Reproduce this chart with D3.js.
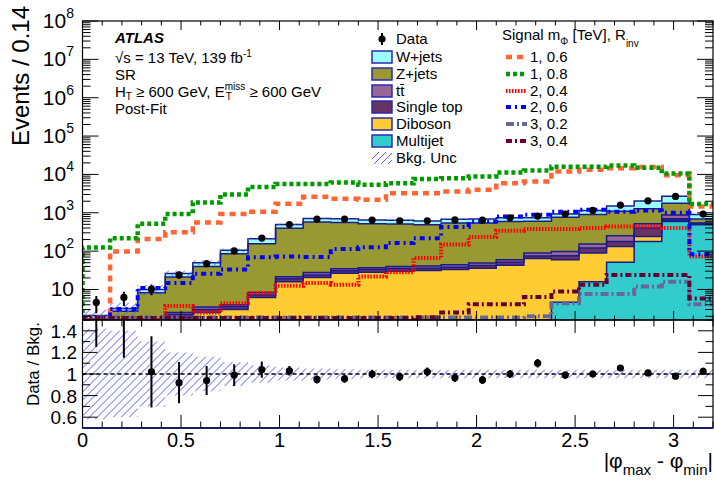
<!DOCTYPE html>
<html>
<head>
<meta charset="utf-8">
<script src="https://cdn.jsdelivr.net/npm/d3@7"></script>
<style>
body { margin: 0; background: #fff; }
svg { display: block; font-family: "Liberation Sans", Arial, Helvetica, sans-serif; }
</style>
</head>
<body>
<svg id="chart" width="714" height="481"></svg>
<script>
// bins of |phi_max - phi_min|, width 0.14
var edges = [0, 0.14, 0.28, 0.42, 0.56, 0.70, 0.84, 0.98, 1.12, 1.26, 1.40, 1.54, 1.68, 1.82, 1.96, 2.10, 2.24, 2.38, 2.52, 2.66, 2.80, 2.94, 3.08, 3.22];

// observed data
var dataVals = [4.6, 6.2, 10.3, 24, 47, 102, 219, 495, 686, 686, 646, 620, 620, 650, 646, 742, 820, 925, 1150, 1585, 2050, 2660, 925];
var dataErr  = [2.2, 2.5, 3.2, 4.9, 6.9, 10, 15, 22, 26, 26, 25, 25, 25, 25, 25, 27, 29, 30, 34, 40, 45, 52, 30];

// post-fit backgrounds (stacked bottom -> top)
var multijet  = [0.1, 0.1, 0.1, 0.2, 0.2, 0.2, 0.3, 0.3, 0.3, 0.4, 0.4, 0.5, 0.5, 0.6, 0.8, 1.0, 1.5, 4.6, 16, 51, 178, 590, 490];
var diboson   = [0.1, 0.3, 0.7, 1.6, 2.3, 2.8, 5.9, 15.7, 20.2, 26, 27.6, 29.5, 30.5, 32.4, 35.2, 42, 63, 55, 73, 81, 62, 50, 15];
var singletop = [0.05, 0.05, 0.2, 0.4, 0.5, 0.6, 1.1, 3, 3.5, 4.5, 5, 5, 5, 5, 6, 8, 10, 16, 31, 46, 160, 60, 20];
var ttbar     = [0.05, 0.1, 0.2, 0.3, 0.5, 0.4, 1.0, 2.5, 3.5, 4, 4, 5, 5, 6, 7, 9, 15, 22, 33, 72, 118, 170, 20];
var zjets     = [1.4, 2.15, 7.0, 18.5, 36.5, 81, 147, 374, 543, 525, 483, 470, 449, 496, 496, 534, 507, 662, 747, 850, 752, 910, 145];
var wjets     = [0.4, 0.5, 1.8, 5, 10, 20, 55, 100, 140, 140, 130, 126, 118, 133, 139, 148, 149, 174, 250, 400, 760, 934, 212];

// relative background uncertainty
var bkgUnc = [0.42, 0.4, 0.3, 0.2, 0.16, 0.11, 0.08, 0.06, 0.05, 0.045, 0.04, 0.04, 0.04, 0.04, 0.04, 0.04, 0.04, 0.04, 0.04, 0.04, 0.04, 0.04, 0.04];

// data / bkg
var ratioVals = [2.2, 1.9, 1.02, 0.92, 0.94, 0.99, 1.04, 1.03, 0.95, 0.955, 1.0, 0.975, 1.02, 0.965, 0.945, 1.0, 1.10, 0.99, 1.0, 1.055, 1.01, 0.98, 1.025];
var ratioErr  = [0.95, 0.75, 0.33, 0.19, 0.135, 0.10, 0.075, 0.045, 0.037, 0.037, 0.039, 0.04, 0.04, 0.038, 0.037, 0.036, 0.04, 0.032, 0.03, 0.027, 0.022, 0.019, 0.033];

// signals, m_phi [TeV], R_inv
var sig_1_06 = [0.8, 98, 207, 310, 560, 925, 1070, 1713, 2600, 2317, 2190, 3240, 3240, 3590, 3980, 5880, 6530, 11900, 13200, 14500, 15500, 9500, 1450];
var sig_1_08 = [125, 217, 518, 925, 1860, 3000, 4700, 5650, 5650, 6200, 5400, 5880, 7560, 8000, 8800, 11200, 12600, 15900, 15900, 17000, 15000, 10500, 1700];
var sig_2_04 = [0.5, 0.8, 1.0, 3.7, 2.5, 4.4, 8.1, 12.6, 14.8, 13.3, 21.8, 28, 66, 148, 234, 340, 376, 376, 400, 437, 437, 400, 72];
var sig_2_06 = [0.5, 3.1, 11, 14.8, 25.8, 33, 69, 72, 70, 113, 126, 162, 217, 427, 590, 800, 890, 1070, 1200, 1070, 1150, 1000, 83];
var sig_3_02 = [1.85, 1.85, 1.85, 1.85, 1.85, 1.85, 1.85, 1.85, 1.85, 1.85, 1.85, 1.85, 1.85, 1.85, 1.85, 1.85, 2.0, 4.4, 7.6, 7.6, 12, 16, 4.1];
var sig_3_04 = [1.8, 1.8, 1.8, 1.8, 1.8, 1.8, 1.8, 1.8, 1.8, 1.8, 1.8, 1.8, 1.9, 2.5, 4.1, 4.1, 6.4, 8.8, 13.3, 24, 24, 24, 5.8];

var stackVals = [multijet, diboson, singletop, ttbar, zjets, wjets];
var stackFill = ["#33cccc", "#ffcc33", "#663366", "#996699", "#999933", "#99ffff"];
var lineBlue = "#1c1c88";
var hatchCol = "#5a5aff";

var signals = [
  {name: "1, 0.6", vals: sig_1_06, color: "#ff6633", dash: "6,5", w: 4.5},
  {name: "1, 0.8", vals: sig_1_08, color: "#009900", dash: "4,3", w: 4.5},
  {name: "2, 0.4", vals: sig_2_04, color: "#ff0000", dash: "1.5,1.5", w: 4},
  {name: "2, 0.6", vals: sig_2_06, color: "#0000ff", dash: "5,4,2,4", w: 4},
  {name: "3, 0.2", vals: sig_3_02, color: "#666699", dash: "8,3,2,3", w: 4},
  {name: "3, 0.4", vals: sig_3_04, color: "#660033", dash: "6,3,2,3", w: 4}
];

var svg = d3.select("#chart");
var left = 82.5, right = 713, top1 = 21, bot1 = 320, top2 = 320, bot2 = 428;

var x = d3.scaleLinear().domain([0, 3.2]).range([left, right]);
var y = d3.scaleLog().domain([1.6, 1e8]).range([bot1, top1]).clamp(true);
var yr = d3.scaleLinear().domain([0.5, 1.5]).range([bot2, top2]);

svg.append("rect").attr("width", 714).attr("height", 481).attr("fill", "#fff");

var defs = svg.append("defs");
defs.append("clipPath").attr("id", "clipTop").append("rect")
  .attr("x", left).attr("y", top1).attr("width", right - left).attr("height", bot1 - top1);
defs.append("clipPath").attr("id", "clipBot").append("rect")
  .attr("x", left).attr("y", top2).attr("width", right - left).attr("height", bot2 - top2);
defs.append("clipPath").attr("id", "clipLeg").append("rect")
  .attr("x", 372).attr("y", 152).attr("width", 20).attr("height", 12);

// hatch drawn as explicit diagonal lines inside a clipped group
function hatchInto(g, x0, y0, x1, y1, step) {
  for (var s = x0 - (y1 - y0); s < x1; s += step) {
    g.append("line").attr("x1", s).attr("y1", y1).attr("x2", s + (y1 - y0)).attr("y2", y0)
      .style("stroke", hatchCol).style("stroke-width", 1);
  }
}

// points for a step histogram
function stepPts(lo, hi) {
  var pts = [];
  for (var i = 0; i < hi.length; i++) {
    pts.push({x: edges[i], lo: lo[i], hi: hi[i]});
    pts.push({x: edges[i + 1], lo: lo[i], hi: hi[i]});
  }
  return pts;
}
var floorV = 0.01;

var gTop = svg.append("g").attr("clip-path", "url(#clipTop)");

// stack
var cum = edges.slice(1).map(function() { return floorV; });
var area = d3.area().x(function(d) { return x(d.x); })
  .y0(function(d) { return y(d.lo); }).y1(function(d) { return y(d.hi); });
var line = d3.line().x(function(d) { return x(d.x); }).y(function(d) { return y(d.hi); });
var tops = [];
stackVals.forEach(function(vals, k) {
  var next = cum.map(function(c, i) { return c + vals[i]; });
  var pts = stepPts(cum, next);
  gTop.append("path").attr("d", area(pts)).attr("fill", stackFill[k]);
  tops.push(pts);
  cum = next;
});
tops.forEach(function(pts) {
  gTop.append("path").attr("d", line(pts)).attr("fill", "none")
    .attr("stroke", lineBlue).attr("stroke-width", 1.5);
});
var total = cum;

// bkg uncertainty band on the stack
var bandPts = stepPts(total.map(function(t, i) { return t * (1 - bkgUnc[i]); }),
                      total.map(function(t, i) { return t * (1 + bkgUnc[i]); }));
defs.append("clipPath").attr("id", "clipBandTop").append("path").attr("d", area(bandPts));
var gBandTop = gTop.append("g").attr("clip-path", "url(#clipBandTop)");
hatchInto(gBandTop, left, top1, right, bot1, 8);

// signals
signals.forEach(function(s) {
  var pts = [{x: 0, hi: 0.1}].concat(stepPts(s.vals, s.vals));
  gTop.append("path").attr("d", line(pts)).attr("fill", "none")
    .attr("stroke", s.color).attr("stroke-width", s.w).attr("stroke-dasharray", s.dash);
});

// data
dataVals.forEach(function(v, i) {
  var cx = x((edges[i] + edges[i + 1]) / 2);
  gTop.append("line").attr("x1", cx).attr("x2", cx)
    .attr("y1", y(Math.max(v - dataErr[i], floorV))).attr("y2", y(v + dataErr[i]))
    .attr("stroke", "#000").attr("stroke-width", 2);
  gTop.append("circle").attr("cx", cx).attr("cy", y(v)).attr("r", 3.6).attr("fill", "#000");
});

// ratio panel
var gBot = svg.append("g").attr("clip-path", "url(#clipBot)");
var areaR = d3.area().x(function(d) { return x(d.x); })
  .y0(function(d) { return yr(1 - d.lo); }).y1(function(d) { return yr(1 + d.hi); });
defs.append("clipPath").attr("id", "clipBandBot").append("path").attr("d", areaR(stepPts(bkgUnc, bkgUnc)));
var gBandBot = gBot.append("g").attr("clip-path", "url(#clipBandBot)");
hatchInto(gBandBot, left, top2, right, bot2, 8);
gBot.append("line").attr("x1", left).attr("x2", right).attr("y1", yr(1)).attr("y2", yr(1))
  .attr("stroke", "#000").attr("stroke-width", 1.5).attr("stroke-dasharray", "4,3");
ratioVals.forEach(function(r, i) {
  var cx = x((edges[i] + edges[i + 1]) / 2);
  gBot.append("line").attr("x1", cx).attr("x2", cx)
    .attr("y1", yr(r - ratioErr[i])).attr("y2", yr(r + ratioErr[i]))
    .attr("stroke", "#000").attr("stroke-width", 2);
  gBot.append("circle").attr("cx", cx).attr("cy", yr(r)).attr("r", 3.6).attr("fill", "#000");
});

// axes and ticks
var gAx = svg.append("g").attr("stroke", "#000").attr("stroke-width", 1);
function tick(x1, y1, x2, y2) {
  gAx.append("line").attr("x1", x1).attr("y1", y1).attr("x2", x2).attr("y2", y2);
}
// x ticks, both panels, top and bottom
for (var t = 0; t <= 32; t++) {
  var xv = x(t / 10);
  var major = (t % 5 === 0);
  tick(xv, top1, xv, top1 + (major ? 9 : 4.5));
  tick(xv, bot1, xv, bot1 - (major ? 9 : 4.5));
  tick(xv, top2, xv, top2 + (major ? 13 : 6.5));
  tick(xv, bot2, xv, bot2 - (major ? 13 : 6.5));
}
// log y ticks
for (var n = 0; n <= 8; n++) {
  for (var m = 1; m <= 9; m++) {
    var v = m * Math.pow(10, n);
    if (v < 1.6 || v > 1e8) continue;
    var len = (m === 1) ? 16 : 8;
    tick(left, y(v), left + len, y(v));
    tick(right, y(v), right - len, y(v));
  }
}
// ratio y ticks
for (var r = 5; r <= 15; r++) {
  var yv = yr(r / 10);
  var len2 = (r % 2 === 0) ? 15 : 7.5;
  tick(left, yv, left + len2, yv);
  tick(right, yv, right - len2, yv);
}

// frames
svg.append("rect").attr("x", left).attr("y", top1).attr("width", right - left).attr("height", bot1 - top1)
  .attr("fill", "none").attr("stroke", "#000").attr("stroke-width", 1.2);
svg.append("rect").attr("x", left).attr("y", top2).attr("width", right - left).attr("height", bot2 - top2)
  .attr("fill", "none").attr("stroke", "#000").attr("stroke-width", 1.2);
svg.append("line").attr("x1", left).attr("x2", right).attr("y1", bot2).attr("y2", bot2)
  .attr("stroke", "#1c1c66").attr("stroke-width", 2);

// text pieces with sub/superscripts; "stay" keeps x so the next piece stacks under it
function rich(g, x0, y0, parts, fs) {
  var cx = x0, held = 0;
  parts.forEach(function(p) {
    var t = g.append("text").attr("x", cx + (p.dx || 0)).attr("y", y0 + (p.dy || 0))
      .style("font-size", (p.fs || fs) + "px").style("white-space", "pre").text(p.t);
    if (p.bold) t.style("font-weight", "bold");
    if (p.italic) t.style("font-style", "italic");
    var w = t.node().getComputedTextLength() + (p.dx || 0);
    if (p.stay) { held = w; } else { cx += Math.max(w, held); held = 0; }
  });
  return cx;
}

// y tick labels
var gLab = svg.append("g").attr("fill", "#000");
for (var n2 = 1; n2 <= 8; n2++) {
  var g = gLab.append("g");
  var parts = [{t: "10"}];
  if (n2 > 1) parts.push({t: String(n2), fs: 14, dy: -10});
  var end = rich(g, 0, 0, parts, 21);
  g.attr("transform", "translate(" + (74 - end) + "," + (y(Math.pow(10, n2)) + 7) + ")");
}
[0.6, 0.8, 1, 1.2, 1.4].forEach(function(v) {
  gLab.append("text").attr("x", 77).attr("y", yr(v) + 7).attr("text-anchor", "end")
    .style("font-size", "19px").text(String(v));
});
[0, 0.5, 1, 1.5, 2, 2.5, 3].forEach(function(v) {
  gLab.append("text").attr("x", x(v)).attr("y", 447).attr("text-anchor", "middle")
    .style("font-size", "20px").text(String(v));
});

// axis titles
gLab.append("text").attr("transform", "translate(29,6) rotate(-90)").attr("text-anchor", "end")
  .style("font-size", "24px").text("Events / 0.14");
gLab.append("text").attr("transform", "translate(39,322) rotate(-90)").attr("text-anchor", "end")
  .style("font-size", "17px").text("Data / Bkg.");
var gx = gLab.append("g");
var xend = rich(gx, 0, 0, [
  {t: "|\u03c6"}, {t: "max", fs: 15, dy: 7}, {t: " - \u03c6"}, {t: "min", fs: 15, dy: 7}, {t: "|"}
], 21);
gx.attr("transform", "translate(" + (713 - xend) + ",468)");

// ATLAS label
var gInfo = gLab.append("g");
rich(gInfo, 115, 43, [{t: "ATLAS", bold: true, italic: true}], 15);
rich(gInfo, 115, 63, [{t: "\u221as = 13 TeV, 139 fb"}, {t: "-1", fs: 10, dy: -6}], 15);
rich(gInfo, 115, 80, [{t: "SR"}], 15);
rich(gInfo, 115, 97, [{t: "H"}, {t: "T", fs: 10, dy: 3}, {t: " \u2265 600 GeV, E"},
  {t: "miss", fs: 10, dy: -7, stay: true}, {t: "T", fs: 10, dy: 3, dx: 1}, {t: " \u2265 600 GeV"}], 15);
rich(gInfo, 115, 114, [{t: "Post-Fit"}], 15);

// legend, backgrounds
var gLeg = svg.append("g");
var legY = [39, 57, 74, 91, 107, 124, 141, 158];
gLeg.append("line").attr("x1", 382).attr("x2", 382).attr("y1", legY[0] - 6).attr("y2", legY[0] + 6)
  .attr("stroke", "#000").attr("stroke-width", 2);
gLeg.append("circle").attr("cx", 382).attr("cy", legY[0]).attr("r", 3.6).attr("fill", "#000");
gLeg.append("text").attr("x", 396).attr("y", legY[0] + 5).style("font-size", "15px").text("Data");
var legNames = ["W+jets", "Z+jets", "tt", "Single top", "Diboson", "Multijet"];
var legFill = [stackFill[5], stackFill[4], stackFill[3], stackFill[2], stackFill[1], stackFill[0]];
legNames.forEach(function(nm, i) {
  var cy = legY[i + 1];
  gLeg.append("rect").attr("x", 372).attr("y", cy - 6).attr("width", 20).attr("height", 12)
    .attr("fill", legFill[i]).attr("stroke", "#2a2ab0").attr("stroke-width", 1.5);
  if (nm === "tt") {
    rich(gLeg, 396, cy + 5, [{t: "t"}, {t: "t\u0304"}], 15);
  } else {
    gLeg.append("text").attr("x", 396).attr("y", cy + 5).style("font-size", "15px").text(nm);
  }
});
var gLegHatch = gLeg.append("g").attr("clip-path", "url(#clipLeg)");
hatchInto(gLegHatch, 372, 152, 392, 164, 7);
gLeg.append("text").attr("x", 396).attr("y", legY[7] + 5).style("font-size", "15px").text("Bkg. Unc");

// legend, signals
rich(gLeg, 502, 40, [{t: "Signal m"}, {t: "\u03a6", fs: 10, dy: 5}, {t: " [TeV], R"}, {t: "inv", fs: 10, dy: 7}], 15);
signals.forEach(function(s, i) {
  var cy = legY[i + 1];
  gLeg.append("line").attr("x1", 506).attr("x2", 527).attr("y1", cy).attr("y2", cy)
    .attr("stroke", s.color).attr("stroke-width", s.w).attr("stroke-dasharray", s.dash);
  gLeg.append("text").attr("x", 530).attr("y", cy + 5).style("font-size", "15px").text(s.name);
});
</script>
</body>
</html>
